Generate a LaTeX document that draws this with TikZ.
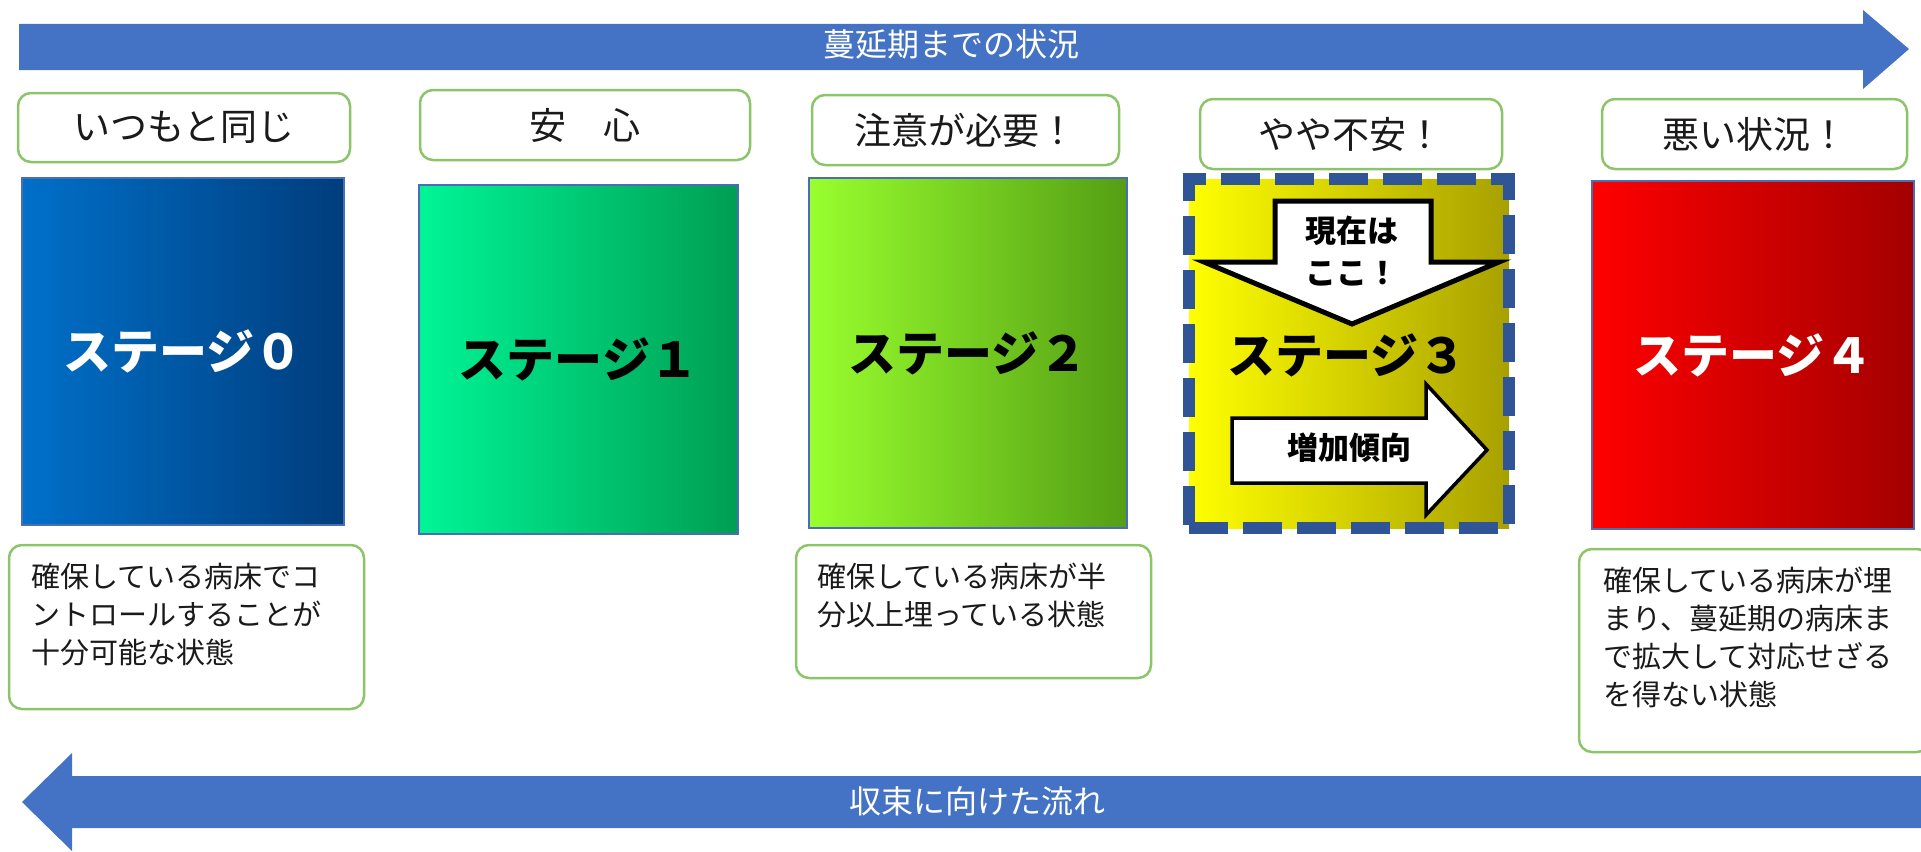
\documentclass[tikz,border=0pt]{standalone}
\usepackage{fontspec}
\setmainfont{Noto Sans CJK JP}
\definecolor{arrowblue}{HTML}{4472C4}
\definecolor{hdrgreen}{HTML}{8CC46A}
\definecolor{stageedge}{HTML}{4A6DB5}
\definecolor{dashblue}{HTML}{2F5597}
\definecolor{sZeroL}{HTML}{0070C9}
\definecolor{sZeroR}{HTML}{003D7C}
\definecolor{sOneL}{HTML}{00F597}
\definecolor{sOneR}{HTML}{009E52}
\definecolor{sTwoL}{HTML}{99FF2E}
\definecolor{sTwoR}{HTML}{549E14}
\definecolor{sThreeL}{HTML}{FFFF00}
\definecolor{sThreeR}{HTML}{A8A000}
\definecolor{sFourL}{HTML}{FF0000}
\definecolor{sFourR}{HTML}{A30000}
\definecolor{txt}{HTML}{1A1A1A}
\begin{document}
\begin{tikzpicture}[x=1pt,y=-1pt,
  hdrbox/.style={draw=hdrgreen, line width=2.5pt, rounded corners=13pt, fill=white,
    inner sep=0pt, text=txt, font=\fontsize{37}{40}\selectfont},
  stagebox/.style={draw=stageedge, line width=1.5pt, inner sep=0pt,
    font=\bfseries\fontsize{48}{52}\selectfont},
  descbox/.style={draw=hdrgreen, line width=2.5pt, rounded corners=13pt, fill=white, inner sep=0pt},
  desctext/.style={anchor=north west, align=left, inner sep=0pt, text=txt,
    font=\fontsize{29}{38}\selectfont},
  flowlabel/.style={text=white, inner sep=0pt, font=\fontsize{32}{36}\selectfont},
  whitearrow/.style={fill=white, draw=black, line join=miter},
  arrowtext/.style={inner sep=0pt, text=black, font=\bfseries\fontsize{31}{42}\selectfont, align=center}
]
\useasboundingbox (0,0) rectangle (1921,851);

% top flow arrow
\fill[arrowblue] (19,24) -- (1863,24) -- (1863,10) -- (1909,49) -- (1863,89) -- (1863,70) -- (19,70) -- cycle;
\node[flowlabel] (toplabel) at (951,44) {蔓延期までの状況};

% bottom flow arrow
\fill[arrowblue] (1930,776) -- (72,776) -- (72,753) -- (22,802) -- (72,851) -- (72,828) -- (1930,828) -- cycle;
\node[flowlabel] (botlabel) at (977,801) {収束に向けた流れ};

% headers
\node[hdrbox, minimum width=332pt, minimum height=69pt] (h0) at (184,127.5) {いつもと同じ};
\node[hdrbox, minimum width=330pt, minimum height=70pt] (h1) at (585,125) {安　心};
\node[hdrbox, minimum width=307pt, minimum height=70pt] (h2) at (965.5,130) {注意が必要！};
\node[hdrbox, minimum width=302pt, minimum height=70pt] (h3) at (1351,134) {やや不安！};
\node[hdrbox, minimum width=305pt, minimum height=70pt] (h4) at (1754.5,134) {悪い状況！};

% stage boxes
\node[stagebox, left color=sZeroL, right color=sZeroR, text=white,
  minimum width=322pt, minimum height=347pt] (s0) at (183,351.5) {ステージ０};
\node[stagebox, left color=sOneL, right color=sOneR, text=black,
  minimum width=319pt, minimum height=349pt] (s1) at (578.5,359.5) {ステージ１};
\node[stagebox, left color=sTwoL, right color=sTwoR, text=black,
  minimum width=318pt, minimum height=350pt] (s2) at (968,353) {ステージ２};
\node[stagebox, left color=sFourL, right color=sFourR, text=white,
  minimum width=322pt, minimum height=348pt] (s4) at (1753,355) {ステージ４};

% stage 3 (current)
\node[draw=dashblue, line width=12pt, dash pattern=on 39pt off 15pt, inner sep=0pt,
  left color=sThreeL, right color=sThreeR, text=black,
  minimum width=320pt, minimum height=349pt] (s3) at (1349,353.5) {};
\node[inner sep=0pt, text=black, font=\bfseries\fontsize{48}{52}\selectfont] (s3label) at (1347,355) {ステージ３};

% "here now" down arrow
\draw[whitearrow, line width=5pt] (1275,201) -- (1431,201) -- (1431,262) -- (1499,262)
  -- (1352,324) -- (1204,262) -- (1275,262) -- cycle;
\node[arrowtext] (now) at (1352,251) {現在は\\ここ！};

% increasing trend right arrow
\draw[whitearrow, line width=3.5pt] (1232,418) -- (1426,418) -- (1426,384) -- (1487,450)
  -- (1426,515) -- (1426,483) -- (1232,483) -- cycle;
\node[arrowtext] (trend) at (1349,448) {増加傾向};

% description boxes
\node[descbox, minimum width=355pt, minimum height=164pt] (d0) at (186.5,627) {};
\node[desctext] (t0) at (31,563) {確保している病床でコ\\ントロールすることが\\十分可能な状態};

\node[descbox, minimum width=355pt, minimum height=133pt] (d2) at (973.5,611.5) {};
\node[desctext] (t2) at (817,563) {確保している病床が半\\分以上埋っている状態};

\node[descbox, minimum width=351pt, minimum height=203pt] (d4) at (1754.5,650.5) {};
\node[desctext] (t4) at (1603,567) {確保している病床が埋\\まり、蔓延期の病床ま\\で拡大して対応せざる\\を得ない状態};
\end{tikzpicture}
\end{document}
